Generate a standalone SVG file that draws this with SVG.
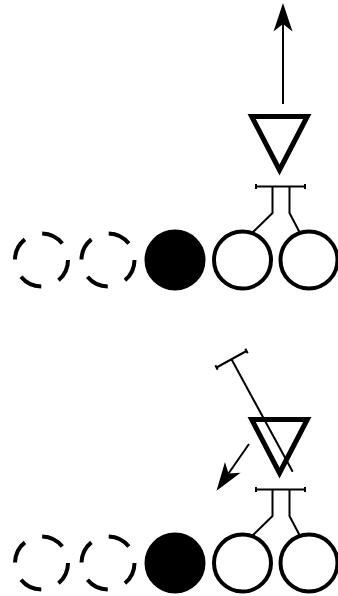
<svg xmlns="http://www.w3.org/2000/svg" width="338" height="596" viewBox="0 0 338 596">
  <style>
    .dash { fill: none; stroke: #000; stroke-width: 4; stroke-dasharray: 23 18.6; }
    .open { fill: #fff; stroke: #000; stroke-width: 4; }
    .full { fill: #000; stroke: #000; stroke-width: 4; }
    .tri { fill: none; stroke: #000; stroke-width: 5; stroke-linejoin: miter; stroke-miterlimit: 10; }
    .ln { fill: none; stroke: #000; stroke-width: 2; }
  </style>
  <defs>
    <marker id="ah" markerUnits="userSpaceOnUse" markerWidth="60" markerHeight="60" refX="0" refY="0" orient="auto" overflow="visible" viewBox="-30 -30 60 60">
      <path d="M21,0 L-7.5,-9.5 L0,0 L-7.5,9.5 Z" fill="#000"/>
    </marker>
  </defs>
  <rect width="338" height="596" fill="#fff"/>

  <!-- top panel -->
  <g id="top-dashed-1"><circle class="dash" cx="41.5" cy="260" r="26.5"/></g>
  <g id="top-dashed-2"><circle class="dash" cx="108" cy="260" r="26.5"/></g>
  <g id="top-filled"><circle class="full" cx="175" cy="260" r="28.5"/></g>
  <g id="top-open-1"><circle class="open" cx="242.5" cy="260" r="28.5"/></g>
  <g id="top-open-2"><circle class="open" cx="309" cy="260" r="28.5"/></g>
  <g id="top-triangle"><polygon class="tri" points="251.7,116.5 307.3,116.5 279.5,170"/></g>
  <g id="top-bracket">
    <path class="ln" d="M256,186.5 H305 M256,184 V189 M305,184 V189"/>
  </g>

  <!-- bottom panel -->
  <g id="bot-dashed-1"><circle class="dash" cx="41.5" cy="563" r="26.5"/></g>
  <g id="bot-dashed-2"><circle class="dash" cx="108" cy="563" r="26.5"/></g>
  <g id="bot-filled"><circle class="full" cx="175" cy="563" r="28.5"/></g>
  <g id="bot-open-1"><circle class="open" cx="242.5" cy="563" r="28.5"/></g>
  <g id="bot-open-2"><circle class="open" cx="309" cy="563" r="28.5"/></g>
  <g id="bot-triangle"><polygon class="tri" points="251.7,419.5 307.3,419.5 279.5,473"/></g>
  <g id="bot-bracket">
    <path class="ln" d="M256,489.5 H305 M256,487 V492 M305,487 V492"/>
  </g>
  <g id="bot-bar">
    <path class="ln" d="M216.5,367.5 L246.5,351 M215.3,365.3 L217.7,369.7 M245.3,348.8 L247.7,353.2"/>
  </g>

  <g id="connectors">
    <path class="ln" d="M252,233 L272.5,213 V186.5"/>
    <path class="ln" d="M300,233 L289.5,213 V186.5"/>
    <path class="ln" d="M283,104 V24" marker-end="url(#ah)"/>
    <path class="ln" d="M252,536 L272.5,516 V489.5"/>
    <path class="ln" d="M300,536 L289.5,516 V489.5"/>
    <path class="ln" d="M231.5,359.3 L292.7,471.7"/>
    <path class="ln" d="M249,444 L228.5,473.5" marker-end="url(#ah)"/>
  </g>
</svg>
